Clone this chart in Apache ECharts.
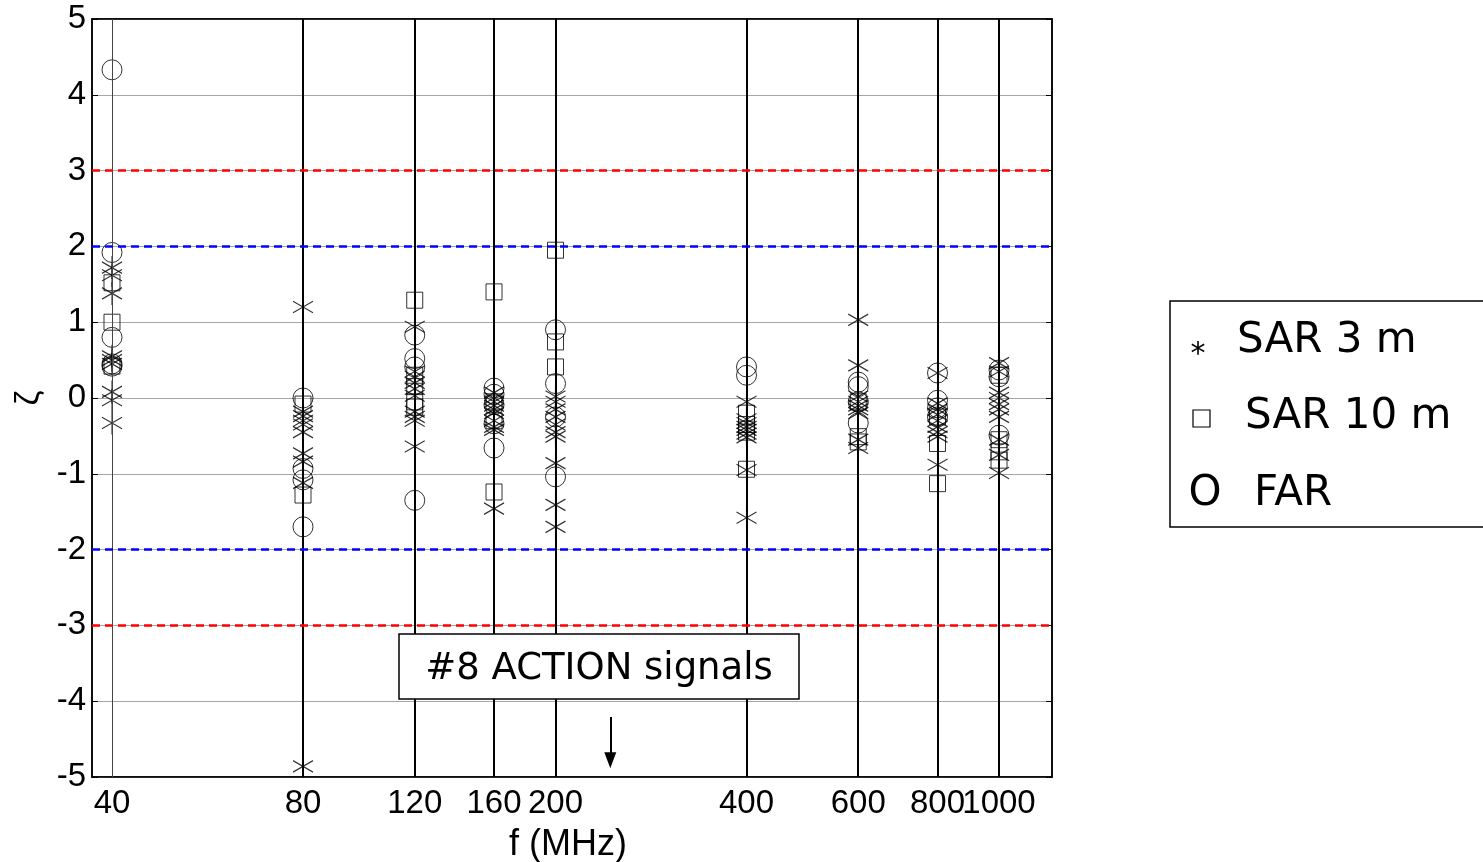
<!DOCTYPE html>
<html>
<head>
<meta charset="utf-8">
<script src="https://cdn.jsdelivr.net/npm/echarts@6/dist/echarts.min.js"></script>
<style>html,body{margin:0;padding:0;background:#fff;overflow:hidden;}#c{width:1483px;height:862px;}</style>
</head>
<body>
<div id="c"></div>
<script>
// ---- data ----
const freqs = [40, 80, 120, 160, 200, 400, 600, 800, 1000];
const freqLabels = ['40', '80', '120', '160', '200', '400', '600', '800', '1000'];
const yTicks = [-5, -4, -3, -2, -1, 0, 1, 2, 3, 4, 5];
// values per frequency (same order as freqs)
const sar3 = [
  [1.72, 1.62, 1.38, 0.55, 0.5, 0.45, 0.08, -0.03, -0.33],
  [1.2, -0.18, -0.24, -0.3, -0.35, -0.45, -0.73, -0.84, -1.12, -4.86],
  [0.94, 0.35, 0.28, 0.2, 0.12, 0.03, -0.18, -0.25, -0.3, -0.64],
  [0.07, 0.0, -0.05, -0.1, -0.15, -0.2, -0.3, -0.38, -0.42, -1.46],
  [0.02, -0.05, -0.15, -0.25, -0.35, -0.45, -0.51, -0.86, -1.41, -1.7],
  [-0.05, -0.28, -0.33, -0.38, -0.42, -0.47, -0.52, -0.95, -1.58],
  [1.03, 0.43, 0.02, -0.05, -0.1, -0.15, -0.2, -0.55, -0.66],
  [0.33, -0.07, -0.15, -0.22, -0.3, -0.38, -0.45, -0.51, -0.88],
  [0.46, 0.35, 0.07, 0.0, -0.08, -0.15, -0.25, -0.55, -0.75, -0.99]
];
const sar10 = [
  [1.52, 1.0, 0.42],
  [-0.08, -1.28],
  [1.29, 0.3, 0.15, -0.05, -0.12],
  [1.4, -0.05, -0.3, -1.24],
  [1.95, 0.74, 0.41],
  [-0.2, -0.35, -0.45, -0.94],
  [-0.05, -0.51, -0.58],
  [-0.25, -0.6, -1.13],
  [0.3, -0.55, -0.71, -0.82]
];
const far = [
  [4.33, 1.92, 0.8, 0.45, 0.42],
  [0.0, -0.93, -1.08, -1.7],
  [0.83, 0.52, 0.41, -1.35],
  [0.13, 0.05, -0.09, -0.34, -0.66],
  [0.9, 0.19, -0.25, -1.04],
  [0.41, 0.3],
  [0.21, 0.15, -0.05, -0.33],
  [0.33, -0.03, -0.13, -0.25],
  [0.37, 0.28, -0.49]
];
const limitsRed = [3, -3];
const limitsBlue = [2, -2];
const seriesNames = ['SAR 3 m', 'SAR 10 m', 'FAR'];
const annotationText = '#8 ACTION signals';
const arrowFreq = 244;
const arrowY = [-4.21, -4.78];

function pairs(groups) {
  const out = [];
  groups.forEach((vals, i) => vals.forEach(v => out.push([freqs[i], v])));
  return out;
}

const starPath = 'path://M10,0L10,20M1.34,5L18.66,15M1.34,15L18.66,5';
const tickFont = 'Liberation Sans, Arial, sans-serif';
const boxFont = 'DejaVu Sans, Verdana, sans-serif';

const chart = echarts.init(document.getElementById('c'), null, {renderer: 'canvas'});
const xMin = 37.2, xMax = 1212;

function freqLabel(v) {
  let best = -1, bd = Infinity;
  freqs.forEach((f, i) => { const d = Math.abs(Math.log(v / f)); if (d < bd) { bd = d; best = i; } });
  return bd < 0.01 ? freqLabels[best] : '';
}

// labels split over two overlaid bottom axes so ECharts does not drop touching labels
const labelsA = freqs.filter((f, i) => i % 2 === 0);
const labelsB = freqs.filter((f, i) => i % 2 === 1);

function bottomLabelAxis(vals, withLine) {
  return {
    type: 'log', logBase: 10, min: xMin, max: xMax, position: 'bottom', offset: 0,
    axisLine: {show: withLine, onZero: false, lineStyle: {color: '#000', width: 1.5}},
    axisTick: {show: withLine, inside: true, length: 6, customValues: freqs, lineStyle: {color: '#000'}},
    axisLabel: {show: true, customValues: vals, hideOverlap: false,
                formatter: freqLabel, fontFamily: tickFont, fontSize: 33, color: '#000', margin: 10},
    splitLine: {show: false}, minorTick: {show: false}
  };
}

const axisA = bottomLabelAxis(labelsA, true);
axisA.name = 'f (MHz)';
axisA.nameLocation = 'middle';
axisA.nameGap = 50;
axisA.nameTextStyle = {fontFamily: tickFont, fontSize: 36, color: '#000', padding: [0, 8, 0, 0]};

const option = {
  backgroundColor: '#fff',
  animation: false,
  grid: {left: 92, top: 19, width: 960, height: 758, show: true, borderColor: '#000', borderWidth: 1.5,
         containLabel: false, outerBoundsMode: 'none'},
  xAxis: [axisA, bottomLabelAxis(labelsB, false), {
    type: 'log', logBase: 10, min: xMin, max: xMax, position: 'top',
    axisLine: {show: true, onZero: false, lineStyle: {color: '#000', width: 1.5}},
    axisTick: {show: true, inside: true, length: 6, customValues: freqs, lineStyle: {color: '#000'}},
    axisLabel: {show: false}, splitLine: {show: false}
  }],
  yAxis: [{
    type: 'value', min: -5, max: 5, interval: 1,
    name: 'ζ', nameLocation: 'middle', nameGap: 42, nameRotate: 90,
    nameTextStyle: {fontFamily: tickFont, fontSize: 34, color: '#000'},
    axisLine: {show: true, onZero: false, lineStyle: {color: '#000', width: 1.5}},
    axisTick: {show: true, inside: true, length: 6, lineStyle: {color: '#000'}},
    axisLabel: {fontFamily: tickFont, fontSize: 33, color: '#000', margin: 6, formatter: v => yTicks.includes(v) ? String(v) : ''},
    splitLine: {show: true, lineStyle: {color: '#a6a6a6', width: 1}}
  }, {
    type: 'value', min: -5, max: 5, interval: 1, position: 'right',
    axisLine: {show: true, onZero: false, lineStyle: {color: '#000', width: 1.5}},
    axisTick: {show: true, inside: true, length: 6, lineStyle: {color: '#000'}},
    axisLabel: {show: false}, splitLine: {show: false}
  }],
  series: [
    {
      name: 'lines', type: 'scatter', data: [], silent: true,
      markLine: {
        silent: true, symbol: 'none', label: {show: false}, animation: false,
        data: [
          {xAxis: freqs[0], lineStyle: {color: '#444', width: 1, type: 'solid'}},
          ...freqs.slice(1).map(f => ({xAxis: f, lineStyle: {color: '#000', width: 2, type: 'solid'}})),
          ...limitsRed.map(y => ({yAxis: y, lineStyle: {color: '#ff0000', width: 2.5, type: [8, 5]}})),
          ...limitsBlue.map(y => ({yAxis: y, lineStyle: {color: '#0000ff', width: 2.5, type: [8, 5]}})),
          [{coord: [arrowFreq, arrowY[0]], symbol: 'none'}, {coord: [arrowFreq, arrowY[1]], symbol: 'triangle', symbolSize: [12, 16], lineStyle: {color: '#000', width: 2, type: 'solid'}}]
        ]
      }
    },
    {
      name: seriesNames[0], type: 'scatter', data: pairs(sar3), symbol: starPath, symbolSize: [20, 23],
      itemStyle: {color: 'rgba(0,0,0,0)', borderColor: '#000', borderWidth: 1.2}
    },
    {
      name: seriesNames[1], type: 'scatter', data: pairs(sar10), symbol: 'rect', symbolSize: 16,
      itemStyle: {color: 'rgba(0,0,0,0)', borderColor: '#000', borderWidth: 1}
    },
    {
      name: seriesNames[2], type: 'scatter', data: pairs(far), symbol: 'circle', symbolSize: 20,
      itemStyle: {color: 'rgba(0,0,0,0)', borderColor: '#000', borderWidth: 1}
    }
  ],
  graphic: [
    {type: 'rect', shape: {x: 399, y: 634, width: 400, height: 65}, style: {fill: '#fff', stroke: '#000', lineWidth: 1.5}, z: 100},
    {type: 'text', x: 599, y: 669, style: {text: annotationText, font: '37px ' + boxFont, fill: '#000', align: 'center', verticalAlign: 'middle'}, z: 101},
    {type: 'rect', shape: {x: 1170, y: 301, width: 330, height: 226}, style: {fill: '#fff', stroke: '#000', lineWidth: 1.5}, z: 100},
    {type: 'text', x: 1198, y: 355, style: {text: '*', font: '30px ' + boxFont, fill: '#000', align: 'center', verticalAlign: 'middle'}, z: 101},
    {type: 'text', x: 1237, y: 341, style: {text: seriesNames[0], font: '42px ' + boxFont, fill: '#000', align: 'left', verticalAlign: 'middle'}, z: 101},
    {type: 'rect', shape: {x: 1193, y: 410, width: 17, height: 17}, style: {fill: 'none', stroke: '#000', lineWidth: 1.2}, z: 101},
    {type: 'text', x: 1245, y: 417, style: {text: seriesNames[1], font: '42px ' + boxFont, fill: '#000', align: 'left', verticalAlign: 'middle'}, z: 101},
    {type: 'text', x: 1205, y: 494, style: {text: 'O', font: '42px ' + boxFont, fill: '#000', align: 'center', verticalAlign: 'middle'}, z: 101},
    {type: 'text', x: 1254, y: 494, style: {text: seriesNames[2], font: '42px ' + boxFont, fill: '#000', align: 'left', verticalAlign: 'middle'}, z: 101}
  ]
};
chart.setOption(option);
</script>
</body>
</html>
